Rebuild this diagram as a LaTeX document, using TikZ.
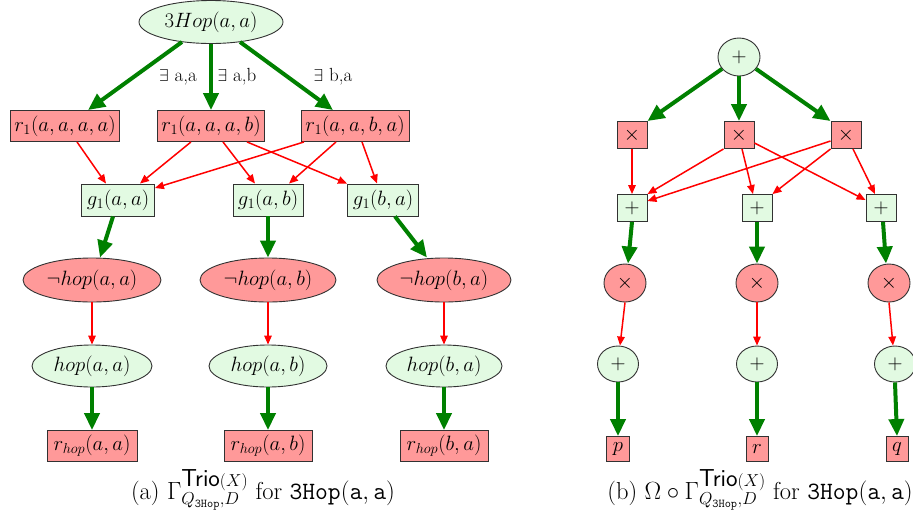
\documentclass[tikz,border=0pt]{standalone}
\usetikzlibrary{shapes.geometric,arrows.meta}
\definecolor{gfill}{RGB}{226,250,226}
\definecolor{rfill}{RGB}{255,153,153}
\definecolor{gline}{RGB}{0,128,0}
\definecolor{bline}{RGB}{50,50,50}
\tikzset{
  every node/.style={font=\fontsize{20}{24}\selectfont},
  gbox/.style={draw=bline,line width=0.9pt,fill=gfill,rectangle,inner sep=0pt},
  rbox/.style={draw=bline,line width=0.9pt,fill=rfill,rectangle,inner sep=0pt},
  gell/.style={draw=bline,line width=0.9pt,fill=gfill,ellipse,inner sep=0pt},
  rell/.style={draw=bline,line width=0.9pt,fill=rfill,ellipse,inner sep=0pt},
  garr/.style={draw=gline,line width=4pt,-{Triangle[length=17pt,width=15pt]}},
  rarr/.style={draw=red,line width=1.5pt,-{Triangle[length=9pt,width=7.5pt]}},
  lbl/.style={font=\fontsize{19}{22}\selectfont,inner sep=0pt},
  capt/.style={font=\fontsize{24.5}{28}\selectfont,inner sep=0pt}
}
\begin{document}
\begin{tikzpicture}[x=1pt,y=-1pt]
\useasboundingbox (0,0) rectangle (913,515);
% ---------- left graph ----------
\node[gell,minimum width=144pt,minimum height=43pt] (top) at (211,22) {$3Hop(a,a)$};
\node[rbox,minimum width=109pt,minimum height=31pt] (r1a) at (65,126) {$r_1(a,a,a,a)$};
\node[rbox,minimum width=107pt,minimum height=31pt] (r1b) at (211,126) {$r_1(a,a,a,b)$};
\node[rbox,minimum width=108pt,minimum height=31pt] (r1c) at (355,126) {$r_1(a,a,b,a)$};
\node[gbox,minimum width=73pt,minimum height=32pt] (gaa) at (118,200) {$g_1(a,a)$};
\node[gbox,minimum width=70pt,minimum height=32pt] (gab) at (268,200) {$g_1(a,b)$};
\node[gbox,minimum width=71pt,minimum height=32pt] (gba) at (383,200) {$g_1(b,a)$};
\node[rell,minimum width=138pt,minimum height=44pt] (nh1) at (92,280) {$\neg hop(a,a)$};
\node[rell,minimum width=136pt,minimum height=44pt] (nh2) at (268,280) {$\neg hop(a,b)$};
\node[rell,minimum width=134pt,minimum height=44pt] (nh3) at (444,280) {$\neg hop(b,a)$};
\node[gell,minimum width=120pt,minimum height=42pt] (h1) at (92,366) {$hop(a,a)$};
\node[gell,minimum width=118pt,minimum height=42pt] (h2) at (268,366) {$hop(a,b)$};
\node[gell,minimum width=116pt,minimum height=42pt] (h3) at (444,366) {$hop(b,a)$};
\node[rbox,minimum width=90pt,minimum height=31pt] (rh1) at (92,446) {$r_{hop}(a,a)$};
\node[rbox,minimum width=88pt,minimum height=31pt] (rh2) at (268,446) {$r_{hop}(a,b)$};
\node[rbox,minimum width=88pt,minimum height=31pt] (rh3) at (444,446) {$r_{hop}(b,a)$};
\node[lbl] (la) at (178,77) {$\exists$ a,a};
\node[lbl] (lb) at (237,77) {$\exists$ a,b};
\node[lbl] (lc) at (333,77) {$\exists$ b,a};
\draw[garr] ([xshift=-29pt,yshift=2pt]top.south) -- ([xshift=23pt]r1a.north);
\draw[garr] (top.south) -- (r1b.north);
\draw[garr] ([xshift=29pt,yshift=2pt]top.south) -- ([xshift=-22pt]r1c.north);
\draw[rarr] ([xshift=12pt]r1a.south) -- ([xshift=-12pt]gaa.north);
\draw[rarr] ([xshift=-20pt]r1b.south) -- ([xshift=22pt]gaa.north);
\draw[rarr] ([xshift=12pt]r1b.south) -- ([xshift=-13pt]gab.north);
\draw[rarr] ([xshift=36pt]r1b.south) -- (gba.north west);
\draw[rarr] ([xshift=-51pt]r1c.south) -- ([yshift=12pt]gaa.east);
\draw[rarr] ([xshift=-19pt]r1c.south) -- ([xshift=21pt]gab.north);
\draw[rarr] ([xshift=7pt]r1c.south) -- ([xshift=-6pt]gba.north);
\draw[garr] ([xshift=-5pt]gaa.south) -- ([xshift=8pt]nh1.north);
\draw[garr] (gab.south) -- (nh2.north);
\draw[garr] ([xshift=12pt]gba.south) -- ([xshift=-17pt]nh3.north);
\draw[rarr] (nh1.south) -- (h1.north);
\draw[rarr] (nh2.south) -- (h2.north);
\draw[rarr] (nh3.south) -- (h3.north);
\draw[garr] (h1.south) -- (rh1.north);
\draw[garr] (h2.south) -- (rh2.north);
\draw[garr] (h3.south) -- (rh3.north);
\node[capt] (capa) at (263,490) {(a) $\Gamma^{\textsf{Trio}(X)}_{Q_{\mathtt{3Hop}},D}$ for $\mathtt{3Hop}(\mathtt{a},\mathtt{a})$};
% ---------- right graph ----------
\node[gell,minimum width=42pt,minimum height=38pt] (pt) at (739,57) {$+$};
\node[rbox,minimum width=30pt,minimum height=27pt] (m1) at (632,135) {$\times$};
\node[rbox,minimum width=30pt,minimum height=27pt] (m2) at (739,135) {$\times$};
\node[rbox,minimum width=30pt,minimum height=27pt] (m3) at (846,135) {$\times$};
\node[gbox,minimum width=30pt,minimum height=27pt] (p1) at (632,208) {$+$};
\node[gbox,minimum width=30pt,minimum height=27pt] (p2) at (757,208) {$+$};
\node[gbox,minimum width=30pt,minimum height=27pt] (p3) at (881,208) {$+$};
\node[rell,minimum width=42pt,minimum height=38pt] (mc1) at (625,283) {$\times$};
\node[rell,minimum width=42pt,minimum height=38pt] (mc2) at (757,283) {$\times$};
\node[rell,minimum width=42pt,minimum height=38pt] (mc3) at (889,283) {$\times$};
\node[gell,minimum width=41pt,minimum height=36pt] (pc1) at (618,364) {$+$};
\node[gell,minimum width=41pt,minimum height=36pt] (pc2) at (757,364) {$+$};
\node[gell,minimum width=41pt,minimum height=36pt] (pc3) at (895,364) {$+$};
\node[rbox,minimum width=23pt,minimum height=25pt] (lp) at (618,449) {$p$};
\node[rbox,minimum width=22pt,minimum height=25pt] (lr) at (757,449) {$r$};
\node[rbox,minimum width=22pt,minimum height=25pt] (lq) at (897,449) {$q$};
\draw[garr] (pt.215) -- (m1.north east);
\draw[garr] (pt.south) -- (m2.north);
\draw[garr] (pt.-35) -- (m3.north west);
\draw[rarr] (m1.south) -- (p1.north);
\draw[rarr] (m2.south west) -- (p1.north east);
\draw[rarr] ([yshift=-6pt]m3.west) -- ([yshift=7pt]p1.east);
\draw[rarr] ([xshift=3pt]m2.south) -- ([xshift=-4pt]p2.north);
\draw[rarr] ([yshift=-8pt]m2.east) -- ([yshift=8pt]p3.west);
\draw[rarr] (m3.south west) -- (p2.north east);
\draw[rarr] ([xshift=7pt]m3.south) -- ([xshift=-6pt]p3.north);
\draw[garr] (p1.south) -- ([xshift=3pt]mc1.north);
\draw[garr] (p2.south) -- (mc2.north);
\draw[garr] ([xshift=2pt]p3.south) -- ([xshift=-3pt]mc3.north);
\draw[rarr] (mc1.south) -- ([xshift=2pt]pc1.north);
\draw[rarr] (mc2.south) -- (pc2.north);
\draw[rarr] (mc3.south) -- ([xshift=-2pt]pc3.north);
\draw[garr] (pc1.south) -- (lp.north);
\draw[garr] (pc2.south) -- (lr.north);
\draw[garr] (pc3.south) -- (lq.north);
\node[capt] (capb) at (760,490) {(b) $\Omega\circ\Gamma^{\textsf{Trio}(X)}_{Q_{\mathtt{3Hop}},D}$ for $\mathtt{3Hop}(\mathtt{a},\mathtt{a})$};
\end{tikzpicture}
\end{document}
